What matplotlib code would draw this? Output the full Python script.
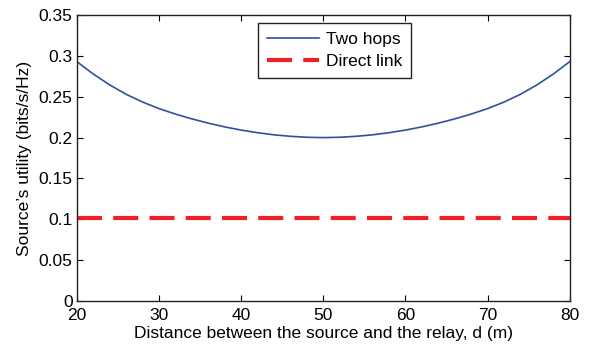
import matplotlib
matplotlib.use('Agg')
import matplotlib.pyplot as plt

# distance between source and relay (m)
distance = [20, 22, 24, 26, 28, 30, 32, 34, 36, 38, 40, 42, 44, 46, 48, 50,
            52, 54, 56, 58, 60, 62, 64, 66, 68, 70, 72, 74, 76, 78, 80]
# source's utility with two hops (bits/s/Hz)
two_hops = [0.2930, 0.2778, 0.2645, 0.2530, 0.2435, 0.2355, 0.2288, 0.2229, 0.2177, 0.2131,
            0.2092, 0.2060, 0.2034, 0.2016, 0.2004, 0.2000,
            0.2004, 0.2016, 0.2034, 0.2060, 0.2092, 0.2131, 0.2177, 0.2229, 0.2288,
            0.2355, 0.2435, 0.2530, 0.2645, 0.2778, 0.2930]
# direct link utility
direct_x = [20, 80]
direct_link = [0.102, 0.102]

plt.rcParams['font.family'] = ['Liberation Sans', 'DejaVu Sans']
plt.rcParams['font.size'] = 12.5

fig = plt.figure(figsize=(6.1, 3.5), dpi=100)
ax = fig.add_axes([0.126, 0.14, 0.808, 0.817])

ax.plot(distance, two_hops, color='#3050a0', linewidth=1.2, label='Two hops')
ax.plot(direct_x, direct_link, color='#ee2226', linewidth=3,
        linestyle=(0, (6, 2.7)), label='Direct link')

ax.set_xlim(20, 80)
ax.set_ylim(0, 0.35)
ax.set_xticks([20, 30, 40, 50, 60, 70, 80])
ax.set_yticks([0, 0.05, 0.1, 0.15, 0.2, 0.25, 0.3, 0.35])
ax.set_yticklabels(['0', '0.05', '0.1', '0.15', '0.2', '0.25', '0.3', '0.35'])
ax.tick_params(direction='in', top=True, right=True, length=4, width=0.8)
ax.tick_params(axis='x', pad=5)
ax.tick_params(axis='y', pad=3)
for s in ax.spines.values():
    s.set_linewidth(1.0)
    s.set_color('#222222')

ax.set_xlabel('Distance between the source and the relay, d (m)', labelpad=2)
ax.set_ylabel('Source\u2019s utility (bits/s/Hz)', labelpad=5)

leg = ax.legend(loc='upper center', bbox_to_anchor=(0.523, 0.972), borderaxespad=0,
                fancybox=False, edgecolor='#222222', framealpha=1, handlelength=3.0,
                borderpad=0.5, labelspacing=0.4, handletextpad=0.4)
leg.get_frame().set_linewidth(1.0)

fig.savefig('out.png', dpi=100)
